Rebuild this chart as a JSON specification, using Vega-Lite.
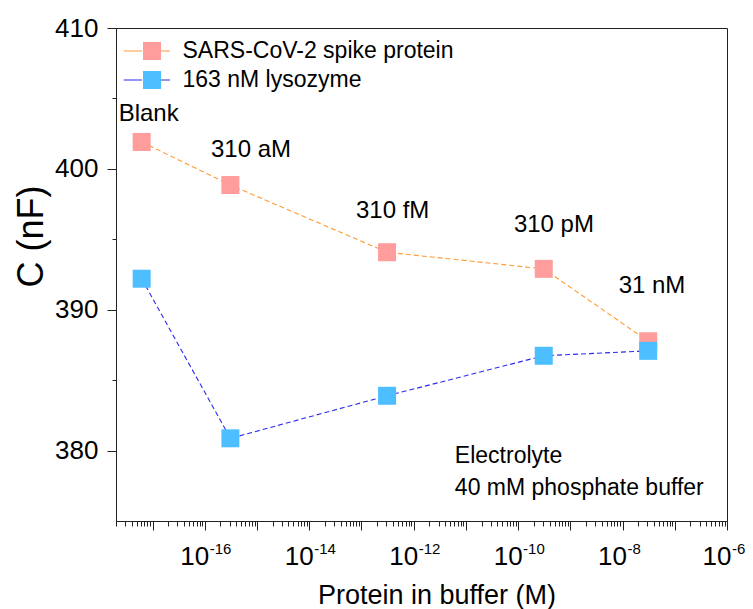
{
  "$schema": "https://vega.github.io/schema/vega-lite/v6.json",
  "width": 611,
  "height": 493,
  "autosize": {"type": "none"},
  "padding": {"left": 116, "top": 28, "right": 26, "bottom": 88},
  "background": "white",
  "config": {
    "font": "Liberation Sans",
    "view": {"stroke": "#222", "strokeWidth": 1},
    "axis": {
      "grid": false,
      "domainColor": "#222",
      "tickColor": "#222",
      "labelColor": "black",
      "titleColor": "black",
      "titleFontWeight": "normal"
    }
  },
  "datasets": {
    "measurements": [
      {"conc": 6.2e-18, "C": 401.91, "series": "SARS-CoV-2 spike protein"},
      {"conc": 3.1e-16, "C": 398.85, "series": "SARS-CoV-2 spike protein"},
      {"conc": 3.1e-13, "C": 394.08, "series": "SARS-CoV-2 spike protein"},
      {"conc": 3.1e-10, "C": 392.9, "series": "SARS-CoV-2 spike protein"},
      {"conc": 3.1e-8, "C": 387.76, "series": "SARS-CoV-2 spike protein"},
      {"conc": 6.2e-18, "C": 392.2, "series": "163 nM lysozyme"},
      {"conc": 3.1e-16, "C": 380.87, "series": "163 nM lysozyme"},
      {"conc": 3.1e-13, "C": 383.89, "series": "163 nM lysozyme"},
      {"conc": 3.1e-10, "C": 386.73, "series": "163 nM lysozyme"},
      {"conc": 3.1e-8, "C": 387.08, "series": "163 nM lysozyme"}
    ],
    "concLabels": [
      {"conc": 8.45e-18, "C": 403.43, "text": "Blank"},
      {"conc": 7.7e-16, "C": 400.82, "text": "310 aM"},
      {"conc": 3.96e-13, "C": 396.49, "text": "310 fM"},
      {"conc": 4.85e-10, "C": 395.52, "text": "310 pM"},
      {"conc": 3.66e-8, "C": 391.21, "text": "31 nM"}
    ],
    "notes": [
      {"conc": 6.15e-12, "C": 379.12, "text": "Electrolyte"},
      {"conc": 6.15e-12, "C": 376.85, "text": "40 mM phosphate buffer"}
    ]
  },
  "resolve": {"axis": {"x": "independent"}},
  "layer": [
    {
      "data": {"name": "measurements"},
      "mark": {"type": "line", "strokeDash": [5, 3], "strokeWidth": 1.1},
      "encoding": {
        "x": {
          "field": "conc",
          "type": "quantitative",
          "scale": {"type": "log", "domain": [2e-18, 1e-6], "nice": false},
          "axis": {
            "orient": "bottom",
            "title": "Protein in buffer (M)",
            "titleFontSize": 27,
            "titleX": 320.5,
            "titleY": 82,
            "titleAlign": "center",
            "titleBaseline": "alphabetic",
            "tickCount": 20,
            "labelOverlap": false,
            "labelFlush": false,
            "labelFontSize": 26,
            "labelBaseline": "alphabetic",
            "labelAlign": "right",
            "labelOffset": 4,
            "labelPadding": 34,
            "labelExpr": "(abs(log(datum.value)/LN10 - round(log(datum.value)/LN10)) < 0.001 && round(log(datum.value)/LN10) % 2 === 0 && round(log(datum.value)/LN10) >= -16) ? '10' : ''",
            "tickSize": {
              "condition": {"test": "abs(log(datum.value)/LN10 - round(log(datum.value)/LN10)) > 0.001", "value": 5},
              "value": 9
            }
          }
        },
        "y": {
          "field": "C",
          "type": "quantitative",
          "scale": {"domain": [375, 410], "nice": false, "zero": false},
          "axis": {
            "title": "C (nF)",
            "titleFontSize": 36,
            "titleX": -74,
            "titleY": 208,
            "titleAlign": "center",
            "titleBaseline": "alphabetic",
            "values": [380, 385, 390, 395, 400, 405, 410],
            "labelFontSize": 26,
            "labelPadding": 9,
            "labelExpr": "datum.value % 10 === 0 ? datum.label : ''",
            "tickSize": {
              "condition": {"test": "datum.value % 10 !== 0", "value": 4},
              "value": 9
            }
          }
        },
        "stroke": {
          "field": "series",
          "type": "nominal",
          "scale": {
            "domain": ["SARS-CoV-2 spike protein", "163 nM lysozyme"],
            "range": ["#FF9933", "#2B2BF0"]
          },
          "legend": {
            "orient": "none",
            "legendX": 24,
            "legendY": 11.5,
            "title": null,
            "padding": 0,
            "symbolType": "M-3.09,0H-1.06M1.06,0H2.06",
            "symbolSize": 324,
            "symbolStrokeWidth": 1,
            "labelFontSize": 23,
            "labelOffset": 19,
            "labelOpacity": 0,
            "labelLimit": 500,
            "rowPadding": 5
          }
        }
      }
    },
    {
      "data": {"name": "measurements"},
      "mark": {"type": "square", "size": 324, "opacity": 1, "strokeWidth": 0},
      "encoding": {
        "x": {"field": "conc", "type": "quantitative", "scale": {"type": "log", "domain": [2e-18, 1e-6], "nice": false}, "axis": null},
        "y": {"field": "C", "type": "quantitative", "scale": {"domain": [375, 410], "nice": false, "zero": false}},
        "fill": {
          "field": "series",
          "type": "nominal",
          "sort": ["SARS-CoV-2 spike protein", "163 nM lysozyme"],
          "scale": {"range": ["#FF9C9C", "#4DBEFF"]},
          "legend": {
            "orient": "none",
            "legendX": 24.5,
            "legendY": 11.5,
            "title": null,
            "padding": 0,
            "symbolType": "square",
            "symbolSize": 324,
            "symbolStrokeWidth": 0,
            "symbolOpacity": 1,
            "labelFontSize": 23,
            "labelOffset": 19,
            "labelLimit": 500,
            "rowPadding": 5
          }
        }
      }
    },
    {
      "data": {"name": "concLabels"},
      "mark": {"type": "text", "align": "center", "baseline": "alphabetic", "fontSize": 24, "color": "black"},
      "encoding": {
        "x": {
          "field": "conc",
          "type": "quantitative",
          "axis": {
            "orient": "bottom",
            "title": null,
            "domain": false,
            "ticks": false,
            "tickSize": 0,
            "tickCount": 20,
            "labelOverlap": false,
            "labelFlush": false,
            "labelFontSize": 15,
            "labelBaseline": "alphabetic",
            "labelAlign": "left",
            "labelOffset": 4.5,
            "labelPadding": 32,
            "labelExpr": "(abs(log(datum.value)/LN10 - round(log(datum.value)/LN10)) < 0.001 && round(log(datum.value)/LN10) % 2 === 0 && round(log(datum.value)/LN10) >= -16) ? '-' + format(abs(round(log(datum.value)/LN10)), 'd') : ''"
          }
        },
        "y": {"field": "C", "type": "quantitative"},
        "text": {"field": "text"}
      }
    },
    {
      "data": {"name": "notes"},
      "mark": {"type": "text", "align": "left", "baseline": "alphabetic", "fontSize": 23, "color": "black"},
      "encoding": {
        "x": {"field": "conc", "type": "quantitative", "axis": null},
        "y": {"field": "C", "type": "quantitative"},
        "text": {"field": "text"}
      }
    }
  ]
}
